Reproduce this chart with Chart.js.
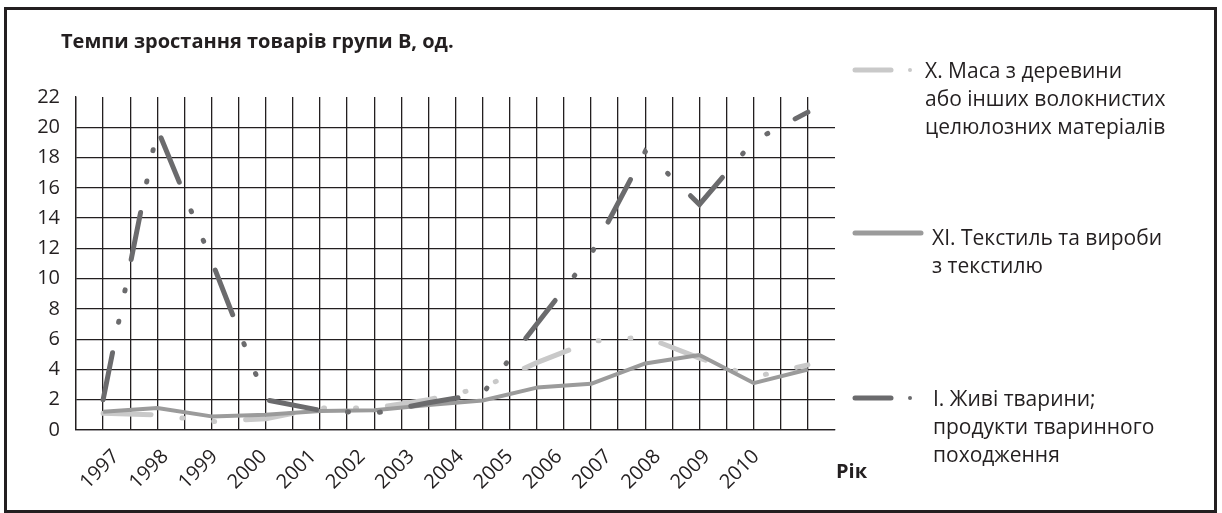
<!DOCTYPE html>
<html>
<head>
<meta charset="utf-8">
<script src="https://cdn.jsdelivr.net/npm/chart.js@4"></script>
<style>
html, body { margin: 0; padding: 0; background: #fff; }
canvas { display: block; }
</style>
</head>
<body>
<canvas id="grafik" width="1222" height="513"></canvas>
<script>
// roky
const years = ['1997', '1998', '1999', '2000', '2001', '2002', '2003',
    '2004', '2005', '2006', '2007', '2008', '2009', '2010'];

// X. Маса з деревини...
const woodPulp = [1.1, 1.0, 0.55, 0.75, 1.45, 1.45, 2.0, 2.8, 4.45, 5.85, 6.15, 4.75, 3.5, 4.3];
// XI. Текстиль...
const textiles = [1.2, 1.45, 0.9, 1.0, 1.25, 1.3, 1.65, 1.95, 2.8, 3.05, 4.4, 4.95, 3.1, 4.0];
// I. Живі тварини...
const animals = [2.0, 19.9, 11.2, 2.0, 1.3, 1.1, 1.8, 2.4, 7.0, 11.6, 18.4, 14.9, 19.1, 21.0];

const yTicks = [0, 2, 4, 6, 8, 10, 12, 14, 16, 18, 20, 22];

const title = 'Темпи зростання товарів групи В, од.';
const xTitle = 'Рік';
const legendWood = ['X. Маса з деревини', 'або інших волокнистих', 'целюлозних матеріалів'];
const legendTextiles = ['XI. Текстиль та вироби', 'з текстилю'];
const legendAnimals = ['І. Живі тварини;', 'продукти тваринного', 'походження'];

const ink = '#231f20';
const dark = '#6b6b6d';
const mid = '#9b9b9b';
const light = '#c9c9c9';
const dashDot = [48, 31, 1, 31, 1, 31];
const fontName = '"Open Sans"';

const pts = arr => arr.map((v, i) => ({ x: i, y: v }));

const decor = {
    id: 'decor',
    beforeDraw(chart) {
        const ctx = chart.ctx;
        ctx.save();
        ctx.strokeStyle = ink;
        ctx.lineWidth = 3;
        ctx.strokeRect(5.5, 8.5, 1210, 503);
        ctx.restore();
    },
    afterDraw(chart) {
        const ctx = chart.ctx;
        ctx.save();
        ctx.fillStyle = ink;
        ctx.textBaseline = 'alphabetic';
        ctx.font = 'bold 20px ' + fontName;
        ctx.fillText(title, 61, 48);
        ctx.fillText(xTitle, 836, 478);

        const item = (lines, color, x1, x2, y, dot, tx, base) => {
            ctx.strokeStyle = color;
            ctx.lineWidth = 5;
            ctx.lineCap = 'round';
            ctx.beginPath();
            ctx.moveTo(x1, y);
            ctx.lineTo(x2, y);
            ctx.stroke();
            if (dot) {
                ctx.fillStyle = color;
                ctx.beginPath();
                ctx.arc(910, y, 2, 0, Math.PI * 2);
                ctx.fill();
            }
            ctx.fillStyle = ink;
            ctx.font = '21px ' + fontName;
            lines.forEach((t, i) => ctx.fillText(t, tx, base + i * 28));
        };
        item(legendWood, light, 855, 891, 70, true, 925, 78);
        item(legendTextiles, mid, 855, 921, 233, false, 932, 245);
        item(legendAnimals, dark, 855, 891, 398, true, 933, 406);
        ctx.restore();
    }
};

new Chart(document.getElementById('grafik'), {
    type: 'line',
    data: {
        datasets: [{
            label: legendAnimals.join(' '),
            data: pts(animals),
            borderColor: dark,
            borderWidth: 5,
            borderDash: dashDot,
            borderCapStyle: 'round',
            pointRadius: 0,
            order: 0,
        }, {
            label: legendTextiles.join(' '),
            data: pts(textiles),
            borderColor: mid,
            borderWidth: 4,
            borderJoinStyle: 'round',
            pointRadius: 0,
            order: 1,
        }, {
            label: legendWood.join(' '),
            data: pts(woodPulp),
            borderColor: light,
            borderWidth: 5,
            borderDash: dashDot,
            borderCapStyle: 'round',
            pointRadius: 0,
            order: 2,
        }],
    },
    options: {
        responsive: false,
        animation: false,
        layout: { padding: { left: 0, top: 97, right: 387, bottom: 0 } },
        plugins: { legend: { display: false }, tooltip: { enabled: false } },
        scales: {
            x: {
                type: 'linear',
                min: -0.5,
                max: years.length - 0.5,
                afterFit(s) { s.height = 0; },
                ticks: { display: false, stepSize: 0.5, maxTicksLimit: 100, autoSkip: false },
                grid: {
                    drawTicks: false,
                    lineWidth: 1.3,
                    color: c => c.tick && c.tick.value >= years.length - 0.5 ? 'rgba(0,0,0,0)' : ink,
                },
                border: { color: ink, width: 1.3 },
            },
            yr: {
                type: 'linear',
                position: 'bottom',
                min: -0.8125,
                max: 14.604,
                afterFit(s) { s.height = 83; },
                ticks: {
                    stepSize: 1,
                    autoSkip: false,
                    maxTicksLimit: 100,
                    minRotation: 45,
                    maxRotation: 45,
                    padding: 15,
                    color: ink,
                    font: { family: fontName, size: 20 },
                    callback: v => Number.isInteger(v) && years[v] ? years[v] : '',
                },
                grid: { display: false, drawTicks: false },
                border: { display: false },
            },
            y: {
                min: 0,
                max: 22,
                afterFit(s) { s.width = 76; },
                ticks: {
                    stepSize: 2,
                    padding: 16,
                    color: ink,
                    font: { family: fontName, size: 20 },
                    callback: v => yTicks.includes(v) ? String(v) : '',
                },
                grid: {
                    drawTicks: false,
                    lineWidth: 1.3,
                    color: c => c.tick && c.tick.value === 22 ? 'rgba(0,0,0,0)' : ink,
                },
                border: { color: ink, width: 1.3 },
            },
        },
    },
    plugins: [decor],
});
</script>
</body>
</html>
